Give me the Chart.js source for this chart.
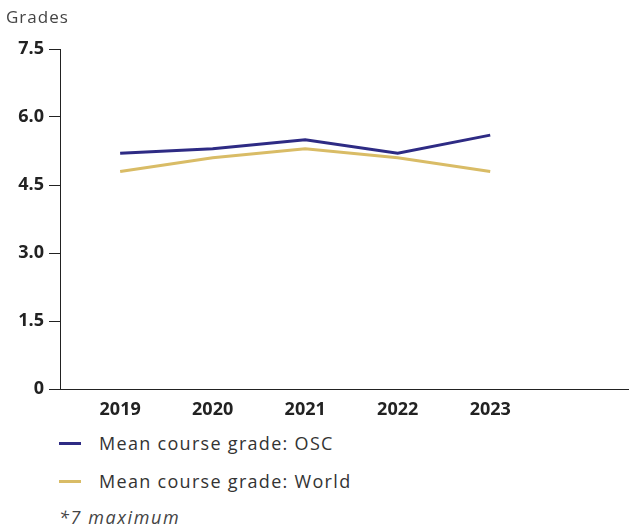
<!DOCTYPE html>
<html lang="en">
<head>
<meta charset="UTF-8">
<title>Mean course grade</title>
<script src="https://cdn.jsdelivr.net/npm/chart.js@4"></script>
<style>
  body { margin: 0; background: #fff; font-family: "Open Sans", sans-serif; color: #333; }
  #wrap { position: relative; width: 629px; height: 529px; }
  #unit { position: absolute; left: 6px; top: 5px; font-size: 17px; letter-spacing: 1px; color: #444; }
  #box { position: absolute; left: 0; top: 0; width: 629px; height: 425px; }
  .leg { position: absolute; left: 59px; font-size: 18px; letter-spacing: 1.3px; color: #333; line-height: 22px; }
  .leg i { position: absolute; left: 0; top: 10px; width: 22px; height: 3px; }
  .leg span { position: absolute; left: 40px; top: 0; white-space: nowrap; }
  #note { position: absolute; left: 59px; top: 505px; font-size: 18px; letter-spacing: 1.6px; font-style: italic; color: #444; }
</style>
</head>
<body>
<div id="wrap">
  <div id="box"><canvas id="chart"></canvas></div>
  <div id="unit">Grades</div>
  <div id="legend"></div>
  <div id="note">*7 maximum</div>
</div>
<script>
// values
const years = [2019, 2020, 2021, 2022, 2023];
const oscGrades = [5.2, 5.3, 5.5, 5.2, 5.6];
const worldGrades = [4.8, 5.1, 5.3, 5.1, 4.8];
const seriesNames = ["Mean course grade: OSC", "Mean course grade: World"];
const yTicks = [0, 1.5, 3.0, 4.5, 6.0, 7.5];

const colors = ["#2e2b84", "#d9bc66"];
const ink = "#222";

const toPoints = vals => years.map((y, i) => ({ x: y, y: vals[i] }));

new Chart(document.getElementById("chart"), {
  type: "line",
  data: {
    datasets: [
      { label: seriesNames[0], data: toPoints(oscGrades), borderColor: colors[0], borderWidth: 3, pointRadius: 0, tension: 0 },
      { label: seriesNames[1], data: toPoints(worldGrades), borderColor: colors[1], borderWidth: 3, pointRadius: 0, tension: 0 }
    ]
  },
  options: {
    responsive: true,
    maintainAspectRatio: false,
    animation: false,
    layout: { padding: { top: 49, right: 0, left: 0, bottom: 0 } },
    plugins: { legend: { display: false }, tooltip: { enabled: false } },
    scales: {
      x: {
        type: "linear",
        min: 2018.35,
        max: 2024.5,
        afterBuildTicks: axis => { axis.ticks = years.map(v => ({ value: v })); },
        afterFit: axis => { axis.height = 36; },
        grid: { display: false, drawTicks: false },
        border: { display: true, color: ink, width: 1 },
        ticks: {
          padding: 10,
          color: ink,
          font: { family: "Open Sans", size: 18, weight: "bold" },
          callback: v => String(v)
        }
      },
      y: {
        min: 0,
        max: 7.5,
        afterBuildTicks: axis => { axis.ticks = yTicks.map(v => ({ value: v })); },
        afterFit: axis => { axis.width = 60; },
        grid: { drawOnChartArea: false, drawTicks: true, tickLength: 11, color: ink },
        border: { display: true, color: ink, width: 1 },
        ticks: {
          padding: 5,
          color: ink,
          font: { family: "Open Sans", size: 18, weight: "bold" },
          callback: v => (v === 0 ? "0" : v.toFixed(1))
        }
      }
    }
  }
});

// html legend below the chart
const legend = document.getElementById("legend");
seriesNames.forEach((name, i) => {
  const row = document.createElement("div");
  row.className = "leg";
  row.style.top = (432 + i * 38) + "px";
  row.innerHTML = '<i style="background:' + colors[i] + '"></i><span>' + name + "</span>";
  legend.appendChild(row);
});
</script>
</body>
</html>
